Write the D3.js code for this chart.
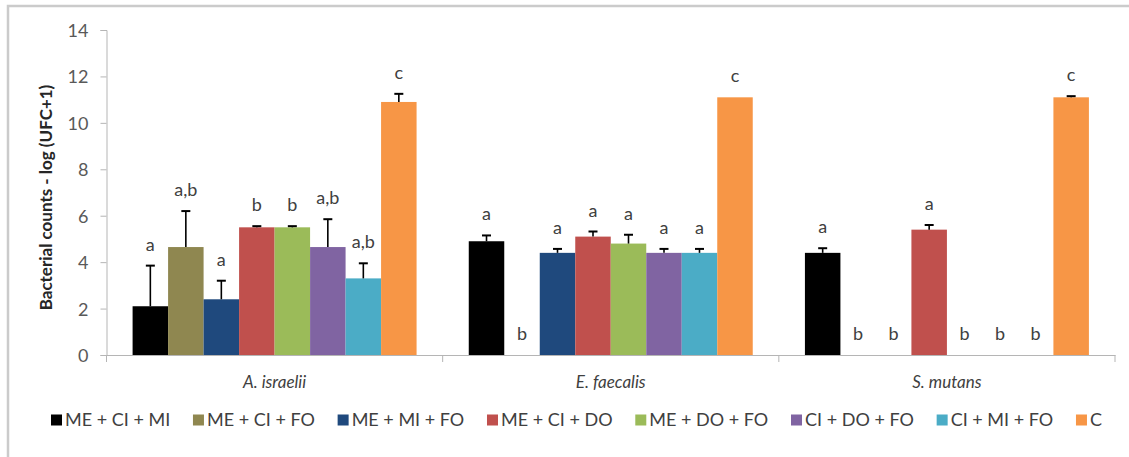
<!DOCTYPE html>
<html>
<head>
<meta charset="utf-8">
<script src="https://cdn.jsdelivr.net/npm/d3@7"></script>
<style>
  html, body { margin: 0; padding: 0; background: #fff; }
  svg { display: block; font-family: Lato, "Open Sans", sans-serif; }
</style>
</head>
<body>
<svg id="chart" width="1129" height="457"></svg>
<script>
// Bacterial groups (x categories) and treatment combinations (series)
const groups = ["A. israelii", "E. faecalis", "S. mutans"];
const treatments = ["ME + CI + MI", "ME + CI + FO", "ME + MI + FO", "ME + CI + DO",
                    "ME + DO + FO", "CI + DO + FO", "CI + MI + FO", "C"];
const colors = ["#000000", "#8f8750", "#1f497d", "#c0504d",
                "#9bbb59", "#8064a2", "#4bacc6", "#f79646"];

// Mean counts, log(UFC+1), per treatment
const meanIsraelii = [2.1, 4.65, 2.4, 5.5, 5.5, 4.65, 3.3, 10.9];
const meanFaecalis = [4.9, 0, 4.4, 5.1, 4.8, 4.4, 4.4, 11.1];
const meanMutans   = [4.4, 0, 0, 5.4, 0, 0, 0, 11.1];

// Standard deviations (upper error bars)
const sdIsraelii = [1.75, 1.55, 0.8, 0.05, 0.05, 1.2, 0.65, 0.35];
const sdFaecalis = [0.25, 0, 0.17, 0.22, 0.38, 0.17, 0.17, 0];
const sdMutans   = [0.2, 0, 0, 0.2, 0, 0, 0, 0.05];

// Significance letters
const letterIsraelii = ["a", "a,b", "a", "b", "b", "a,b", "a,b", "c"];
const letterFaecalis = ["a", "b", "a", "a", "a", "a", "a", "c"];
const letterMutans   = ["a", "b", "b", "a", "b", "b", "b", "c"];

const yTicks = [0, 2, 4, 6, 8, 10, 12, 14];
const yTitle = "Bacterial counts - log (UFC+1)";

const means = [meanIsraelii, meanFaecalis, meanMutans];
const sds = [sdIsraelii, sdFaecalis, sdMutans];
const letters = [letterIsraelii, letterFaecalis, letterMutans];

const rows = [];
groups.forEach((g, gi) => {
  treatments.forEach((t, ti) => {
    rows.push({ group: g, treatment: t, color: colors[ti],
                value: means[gi][ti], sd: sds[gi][ti], letter: letters[gi][ti] });
  });
});

const svg = d3.select("#chart");
const axisColor = "#b5b5b5";
const textColor = "#404040";

// outer frame
svg.append("path")
  .attr("d", "M8,460 L8,6 L1132,6")
  .attr("fill", "none")
  .attr("stroke", "#cbcbcb")
  .attr("stroke-width", 2.5);

const plot = { left: 106.5, right: 1115, top: 30, bottom: 355 };

const x = d3.scaleBand().domain(groups).range([plot.left, plot.right]).padding(0);
const xi = d3.scaleBand().domain(treatments).range([0, x.bandwidth()])
  .paddingInner(0).paddingOuter(0.735);
const y = d3.scaleLinear().domain([0, 14]).range([plot.bottom, plot.top]);

// y axis
const yAxis = svg.append("g")
  .attr("transform", `translate(${plot.left},0)`)
  .call(d3.axisLeft(y).tickValues(yTicks).tickSize(6).tickPadding(12).tickFormat(d3.format("d")));
yAxis.select(".domain").attr("stroke", axisColor);
yAxis.selectAll(".tick line").attr("stroke", axisColor);
yAxis.selectAll(".tick text")
  .attr("fill", "#595959")
  .style("font-size", "18px")
  .style("font-family", "Lato, sans-serif")
  .attr("dy", "0.36em");

// bars
const bars = svg.append("g");
bars.selectAll("rect")
  .data(rows)
  .join("rect")
  .attr("x", d => x(d.group) + xi(d.treatment))
  .attr("width", xi.bandwidth())
  .attr("y", d => y(d.value))
  .attr("height", d => y(0) - y(d.value))
  .attr("fill", d => d.color);

// error bars (upper)
const eb = svg.append("g").attr("stroke", "#000").attr("stroke-width", 1.6);
rows.filter(d => d.sd > 0).forEach(d => {
  const cx = x(d.group) + xi(d.treatment) + xi.bandwidth() / 2;
  eb.append("line").attr("x1", cx).attr("x2", cx)
    .attr("y1", y(d.value)).attr("y2", y(d.value + d.sd));
  eb.append("line").attr("x1", cx - 4.5).attr("x2", cx + 4.5)
    .attr("y1", y(d.value + d.sd)).attr("y2", y(d.value + d.sd))
    .attr("stroke-width", 2);
});

// x axis line and group separators
const xAxis = svg.append("g")
  .attr("transform", `translate(0,${plot.bottom})`)
  .call(d3.axisBottom(x).tickSize(0).tickFormat(""));
xAxis.select(".domain").attr("stroke", axisColor);
xAxis.selectAll(".tick").remove();
const seps = [plot.left, ...groups.map(g => x(g) + x.bandwidth())];
svg.append("g").selectAll("line").data(seps).join("line")
  .attr("x1", d => d).attr("x2", d => d)
  .attr("y1", plot.bottom).attr("y2", plot.bottom + 7)
  .attr("stroke", axisColor);

// significance letters
svg.append("g").selectAll("text")
  .data(rows)
  .join("text")
  .attr("x", d => x(d.group) + xi(d.treatment) + xi.bandwidth() / 2)
  .attr("y", d => y(d.value + d.sd) - 15)
  .attr("text-anchor", "middle")
  .attr("fill", textColor)
  .style("font-size", "18px")
  .text(d => d.letter);

// group labels
svg.append("g").selectAll("text")
  .data(groups)
  .join("text")
  .attr("x", d => x(d) + x.bandwidth() / 2)
  .attr("y", plot.bottom + 33)
  .attr("text-anchor", "middle")
  .attr("fill", textColor)
  .style("font-size", "17px")
  .style("font-style", "italic")
  .text(d => d);

// y axis title
svg.append("text")
  .attr("transform", `translate(52,${(plot.top + plot.bottom) / 2 + 5}) rotate(-90)`)
  .attr("text-anchor", "middle")
  .attr("fill", "#262626")
  .style("font-size", "17px")
  .style("font-weight", "bold")
  .text(yTitle);

// legend: measured item widths, spread between the left and right limits
const legend = svg.append("g");
const legY = 420, sq = 11, sqGap = 3, legLeft = 51, legRight = 1102;
const items = legend.selectAll("g").data(treatments).join("g");
items.append("rect")
  .attr("width", sq).attr("height", sq).attr("y", legY - sq / 2)
  .attr("fill", (d, i) => colors[i]);
items.append("text")
  .attr("x", sq + sqGap)
  .attr("y", legY)
  .attr("dy", "0.35em")
  .attr("fill", textColor)
  .style("font-size", "18px")
  .text(d => d);
const widths = [];
items.each(function () { widths.push(sq + sqGap + d3.select(this).select("text").node().getComputedTextLength()); });
const total = d3.sum(widths);
const gap = (legRight - legLeft - total) / (treatments.length - 1);
let cursor = legLeft;
items.each(function (d, i) {
  d3.select(this).attr("transform", `translate(${cursor},0)`);
  cursor += widths[i] + gap;
});
</script>
</body>
</html>
